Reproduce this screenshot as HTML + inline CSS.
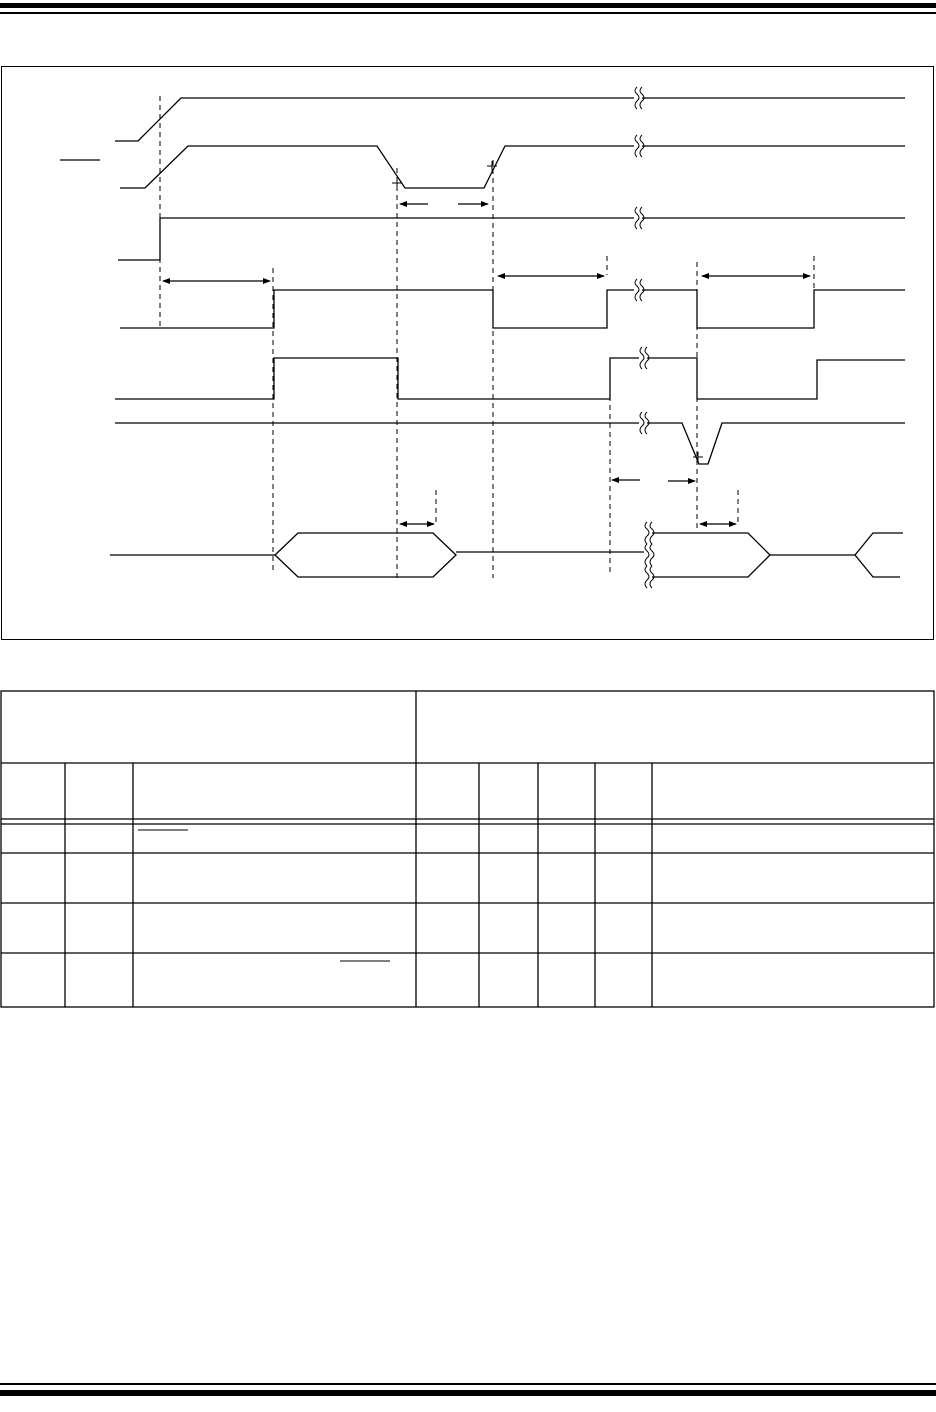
<!DOCTYPE html>
<html><head><meta charset="utf-8"><style>
html,body{margin:0;padding:0;background:#fff;}
svg{display:block;}
</style></head><body>
<svg width="936" height="1412" viewBox="0 0 936 1412" xmlns="http://www.w3.org/2000/svg" font-family="Liberation Sans, sans-serif">
<defs>
<marker id="ah" markerWidth="8" markerHeight="6" refX="7" refY="3" orient="auto-start-reverse" markerUnits="userSpaceOnUse">
<path d="M0,0 L8,3 L0,6 z" fill="#000"/></marker>
<g id="brk"><rect x="-4" y="-10" width="8" height="20" fill="#fff"/>
<path d="M-1,-11 q-4,4 0,7 q4,4 0,7 q-4,4 0,8" fill="none" stroke="#000" stroke-width="1"/>
<path d="M4,-11 q-4,4 0,7 q4,4 0,7 q-4,4 0,8" fill="none" stroke="#000" stroke-width="1"/></g>
</defs>
<!-- header/footer bars -->
<rect x="0" y="3" width="936" height="5" fill="#000"/>
<rect x="0" y="12" width="936" height="2" fill="#000"/>
<rect x="0" y="1383" width="936" height="2" fill="#000"/>
<rect x="0" y="1390" width="936" height="6" fill="#000"/>
<!-- frame -->
<rect x="1.5" y="66.5" width="932" height="573" fill="none" stroke="#000" stroke-width="1"/>
<g fill="none" stroke="#000" stroke-width="1.3">
<!-- VDD -->
<polyline points="115,141 138,141 181,98 905,98"/>
<!-- MCLR -->
<line x1="60" y1="160" x2="100" y2="160"/>
<polyline points="120,188 145,188 188,146 377,146 405,188 484,188 505,146 905,146"/>
<!-- POR -->
<polyline points="118,260 160,260 160,218 905,218"/>
<!-- signal 4 -->
<polyline points="120,328 274,328 274,290 493,290 493,328 607,328 607,290 697,290 697,328 814,328 814,290 905,290"/>
<!-- signal 5 -->
<polyline points="115,399 274,399 274,358 398,358 398,399 610,399 610,358 697,358 697,399 817,399 817,360 905,360"/>
<!-- signal 6 -->
<polyline points="115,423 682,423 699,464 708,464 722,423 905,423"/>
<!-- bus -->
<line x1="110" y1="555" x2="275" y2="555"/>
<polygon points="275,555 298,533 433,533 456,555 433,577 298,577"/>
<line x1="456" y1="552" x2="645" y2="552"/>
<polyline points="650,533 748,533 770,555 748,577 650,577"/>
<line x1="770" y1="555" x2="855" y2="555"/>
<polyline points="903,533 873,533 855,555 873,577 900,577"/>
</g>
<!-- crosshairs -->
<g stroke="#000" stroke-width="1">
<line x1="392" y1="183" x2="402" y2="183"/><line x1="397" y1="178" x2="397" y2="188"/>
<line x1="487" y1="166" x2="497" y2="166"/><line x1="492" y1="161" x2="492" y2="171"/>
<line x1="693" y1="457" x2="703" y2="457"/><line x1="698" y1="452" x2="698" y2="462"/>
</g>
<!-- dashed guides -->
<g stroke="#000" stroke-width="1" stroke-dasharray="5,4">
<line x1="160" y1="96" x2="160" y2="328"/>
<line x1="273" y1="268" x2="273" y2="572"/>
<line x1="397" y1="168" x2="397" y2="578"/>
<line x1="493" y1="160" x2="493" y2="578"/>
<line x1="607" y1="256" x2="607" y2="275"/>
<line x1="610" y1="360" x2="610" y2="575"/>
<line x1="697" y1="262" x2="697" y2="530"/>
<line x1="814" y1="256" x2="814" y2="290"/>
<line x1="436" y1="490" x2="436" y2="525"/>
<line x1="738" y1="490" x2="738" y2="525"/>
</g>
<!-- arrows -->
<g stroke="#000" stroke-width="1.2">
<line x1="428" y1="204" x2="400" y2="204" marker-end="url(#ah)"/>
<line x1="458" y1="204" x2="488" y2="204" marker-end="url(#ah)"/>
<line x1="163" y1="281" x2="270" y2="281" marker-start="url(#ah)" marker-end="url(#ah)"/>
<line x1="498" y1="276" x2="604" y2="276" marker-start="url(#ah)" marker-end="url(#ah)"/>
<line x1="702" y1="276" x2="810" y2="276" marker-start="url(#ah)" marker-end="url(#ah)"/>
<line x1="640" y1="480" x2="612" y2="480" marker-end="url(#ah)"/>
<line x1="668" y1="481" x2="695" y2="481" marker-end="url(#ah)"/>
<line x1="400" y1="524" x2="434" y2="524" marker-start="url(#ah)" marker-end="url(#ah)"/>
<line x1="700" y1="524" x2="736" y2="524" marker-start="url(#ah)" marker-end="url(#ah)"/>
</g>
<!-- breaks -->
<use href="#brk" x="638" y="98"/>
<use href="#brk" x="638" y="146"/>
<use href="#brk" x="638" y="218"/>
<use href="#brk" x="638" y="290"/>
<use href="#brk" x="643" y="358"/>
<use href="#brk" x="643" y="423"/>
<use href="#brk" x="648" y="533"/>
<use href="#brk" x="648" y="555"/>
<use href="#brk" x="648" y="577"/>
<!-- table -->
<g stroke="#000" stroke-width="1.3" fill="none">
<rect x="1" y="691" width="933" height="316"/>
<line x1="416" y1="691" x2="416" y2="1007"/>
<line x1="1" y1="763" x2="934" y2="763"/>
<line x1="1" y1="819" x2="934" y2="819"/>
<line x1="1" y1="824" x2="934" y2="824"/>
<line x1="1" y1="853" x2="934" y2="853"/>
<line x1="1" y1="903" x2="934" y2="903"/>
<line x1="1" y1="953" x2="934" y2="953"/>
<line x1="65" y1="763" x2="65" y2="1007"/>
<line x1="133" y1="763" x2="133" y2="1007"/>
<line x1="479" y1="763" x2="479" y2="1007"/>
<line x1="538" y1="763" x2="538" y2="1007"/>
<line x1="595" y1="763" x2="595" y2="1007"/>
<line x1="652" y1="763" x2="652" y2="1007"/>
<line x1="138" y1="830" x2="188" y2="830" stroke-width="1"/>
<line x1="340" y1="961" x2="390" y2="961" stroke-width="1"/>
</g>
</svg>
</body></html>
